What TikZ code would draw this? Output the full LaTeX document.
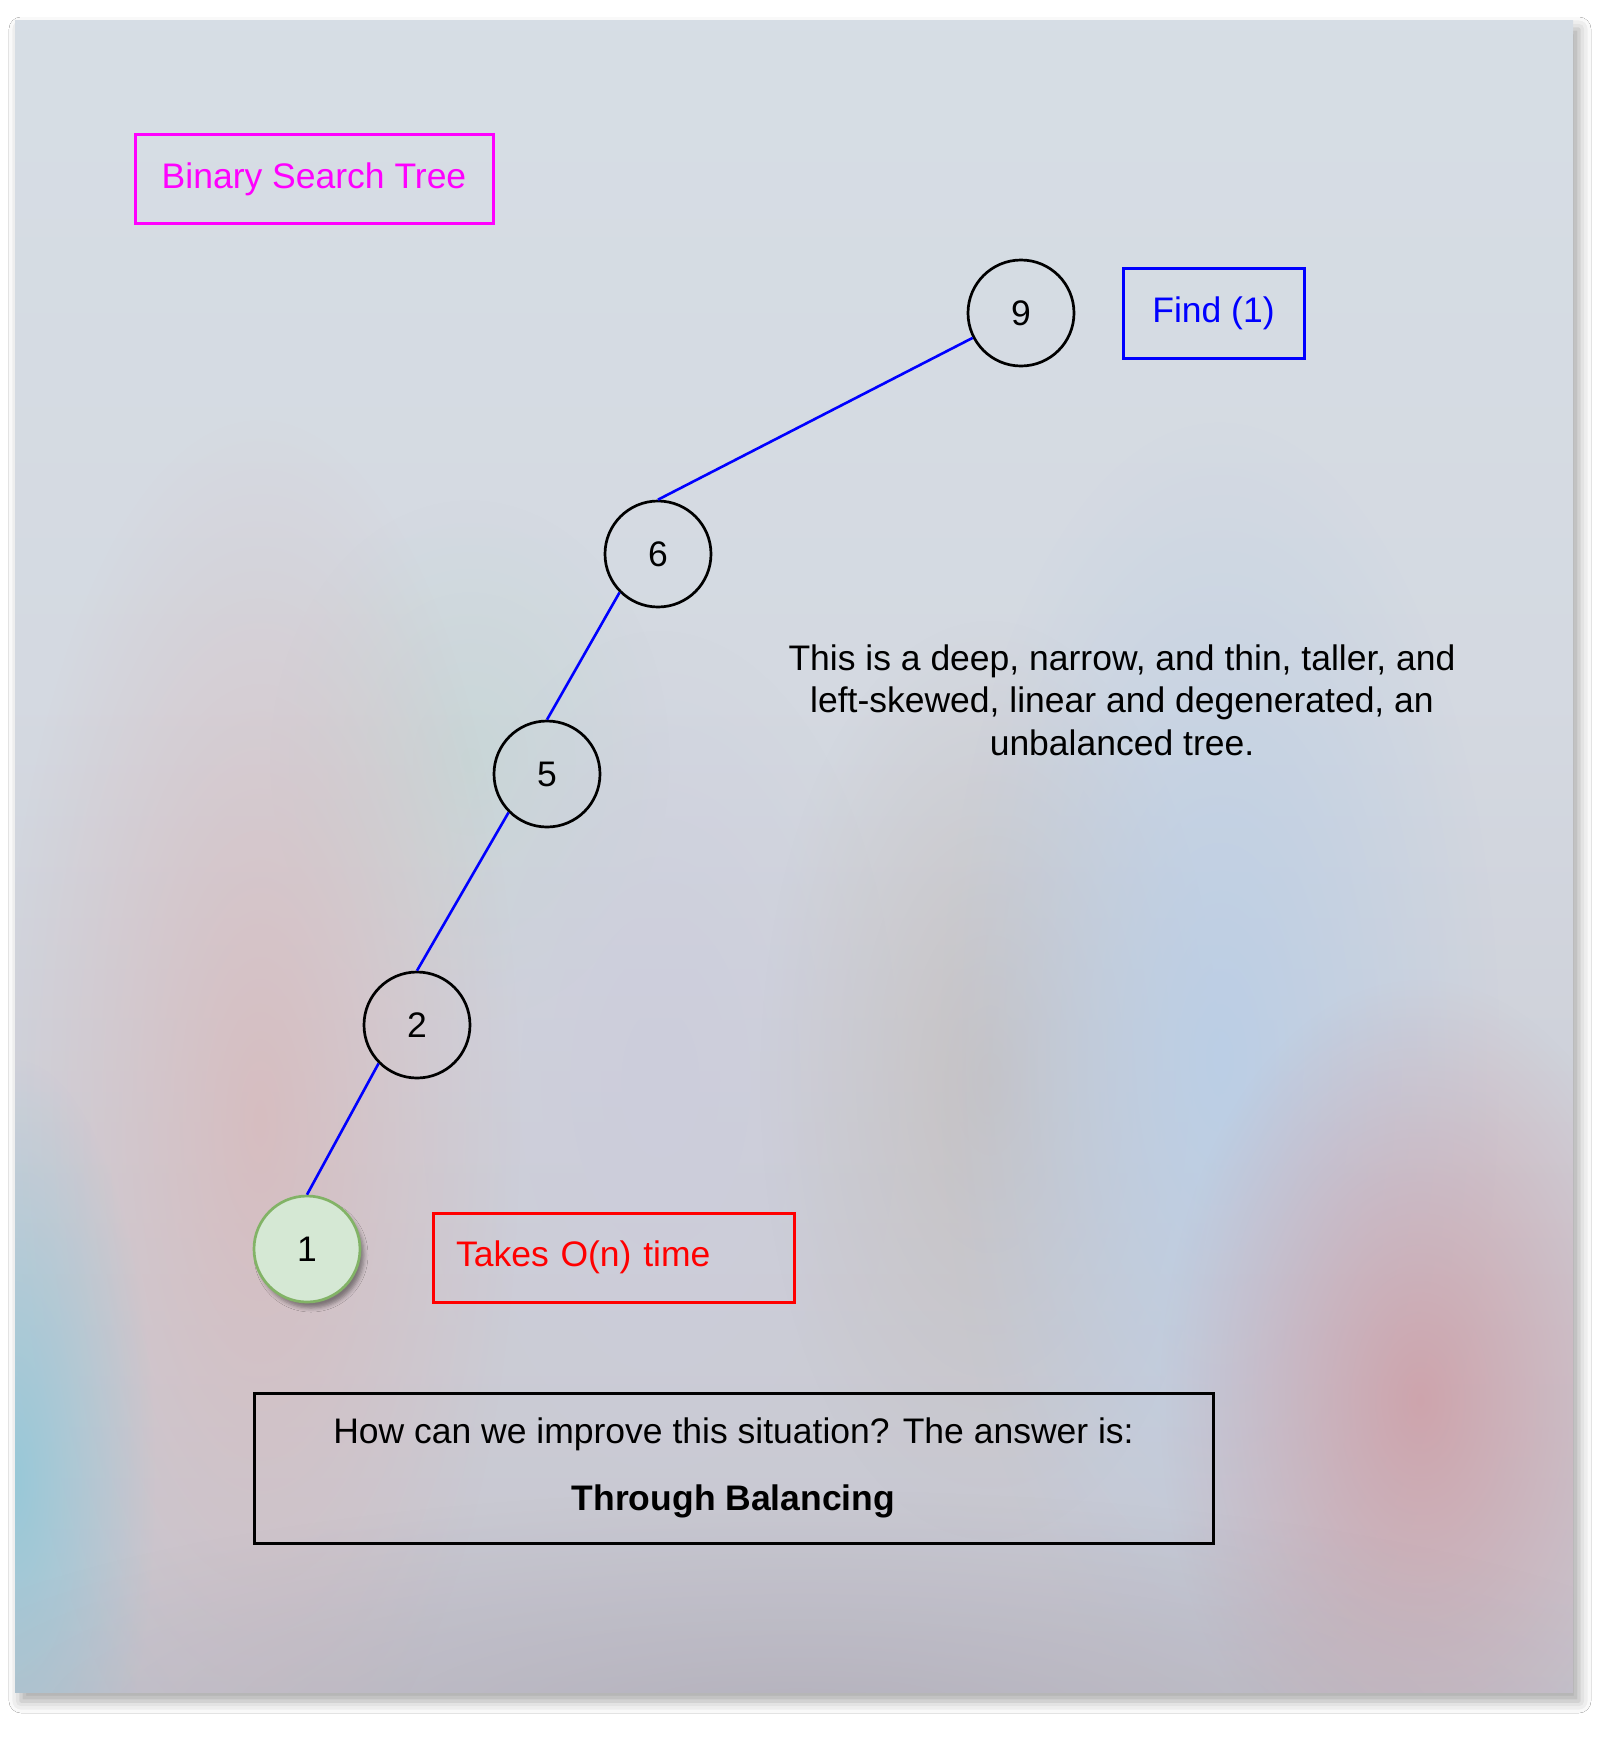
\documentclass[tikz,border=0pt]{standalone}
\usepackage{fontspec}
\setmainfont{Liberation Sans}
\usetikzlibrary{fadings,shadows.blur}

\definecolor{bgtop}{RGB}{217,227,233}
\definecolor{bgmid}{RGB}{212,217,225}
\definecolor{bglow}{RGB}{196,194,204}
\definecolor{bgbot}{RGB}{170,166,178}
\definecolor{blobpink}{RGB}{216,186,188}
\definecolor{blobblue}{RGB}{186,206,230}
\definecolor{blobred}{RGB}{206,160,168}
\definecolor{blobwarm}{RGB}{196,190,190}
\definecolor{blobcyan}{RGB}{150,200,216}
\definecolor{bloblav}{RGB}{204,204,220}
\definecolor{blobgreen}{RGB}{196,214,212}
\definecolor{gfill}{RGB}{213,232,212}
\definecolor{gline}{RGB}{130,179,102}
\definecolor{mag}{RGB}{255,0,255}
\definecolor{pureblue}{RGB}{0,0,255}
\definecolor{purered}{RGB}{255,0,0}

\pgfdeclareverticalshading{panelshade}{100bp}{color(0bp)=(bgbot); color(20bp)=(bglow); color(55bp)=(bgmid); color(100bp)=(bgtop)}
\tikzfading[name=softblob, inner color=transparent!0, outer color=transparent!100]

\newcommand\fs{\fontsize{35.5}{42.6}\selectfont}

\tikzset{
  tbox/.style={draw, line width=3pt, rectangle, inner sep=0pt, font=\fs},
  tn/.style={circle, draw=black, line width=2.7pt, minimum size=106pt, inner sep=0pt, font=\fs},
  edge/.style={draw=pureblue, line width=2.6pt},
  blob/.style={path fading=softblob}
}

\begin{document}
\begin{tikzpicture}[x=1pt,y=-1pt]
\useasboundingbox (0,0) rectangle (1623,1746);
\fill[white] (0,0) rectangle (1623,1746);

% panel with shadow
\fill[white, blur shadow={shadow xshift=6pt, shadow yshift=-9pt, shadow blur radius=12pt, shadow opacity=35}] (15,20) rectangle (1573,1692);
\shade[shading=panelshade] (15,20) rectangle (1573,1692);
\begin{scope}
  \clip (15,20) rectangle (1573,1692);
  \fill[blobgreen, blob, opacity=0.7] (470,760) ellipse [x radius=200, y radius=260];
  \fill[bloblav, blob, opacity=0.8] (660,1080) ellipse [x radius=240, y radius=450];
  \fill[blobwarm, blob, opacity=0.8] (990,1080) ellipse [x radius=230, y radius=460];
  \fill[blobpink, blob, opacity=0.85] (260,1120) ellipse [x radius=260, y radius=700];
  \fill[blobblue, blob, opacity=0.95] (1220,1060) ellipse [x radius=280, y radius=640];
  \fill[blobred, blob, opacity=0.9] (1420,1400) ellipse [x radius=260, y radius=420];
  \fill[blobcyan, blob, opacity=0.95] (15,1480) ellipse [x radius=140, y radius=420];
  \fill[bgbot, blob, opacity=0.6] (800,1720) ellipse [x radius=950, y radius=230];
\end{scope}

% title
\node[tbox, draw=mag, text=mag, minimum width=358pt, minimum height=89pt] (bst) at (314,179) {Binary Search Tree};

% tree nodes
\node[tn] (n9) at (1021,313) {9};
\node[tn] (n6) at (658,554) {6};
\node[tn] (n5) at (547,774) {5};
\node[tn] (n2) at (417,1025) {2};
\node[tn, fill=gfill, draw=gline, blur shadow={shadow xshift=4pt, shadow yshift=-6pt, shadow blur radius=4pt, shadow opacity=40}] (n1) at (307,1249) {1};

% edges
\draw[edge] (n6.north) -- (n9);
\draw[edge] (n6.south west) -- (n5.north);
\draw[edge] (n5.south west) -- (n2.north);
\draw[edge] (n2.south west) -- (n1.north);

% labels
\node[tbox, draw=pureblue, text=pureblue, minimum width=181pt, minimum height=90pt] (find) at (1213.5,313) {Find (1)};
\node[tbox, draw=purered, text=purered, minimum height=89pt, text width=315pt, align=left, inner xsep=23pt] (takes) at (613.5,1257.5) {Takes O(n) time};
\node[align=center, font=\fs] (desc) at (1122,700) {This is a deep, narrow, and thin, taller, and\\left-skewed, linear and degenerated, an\\unbalanced tree.};
\node[tbox, draw=black, minimum width=959pt, minimum height=150pt, align=center] (ans) at (733.5,1468) {How can we improve this situation? The answer is:\\[24pt]\textbf{Through Balancing}};
\end{tikzpicture}
\end{document}
